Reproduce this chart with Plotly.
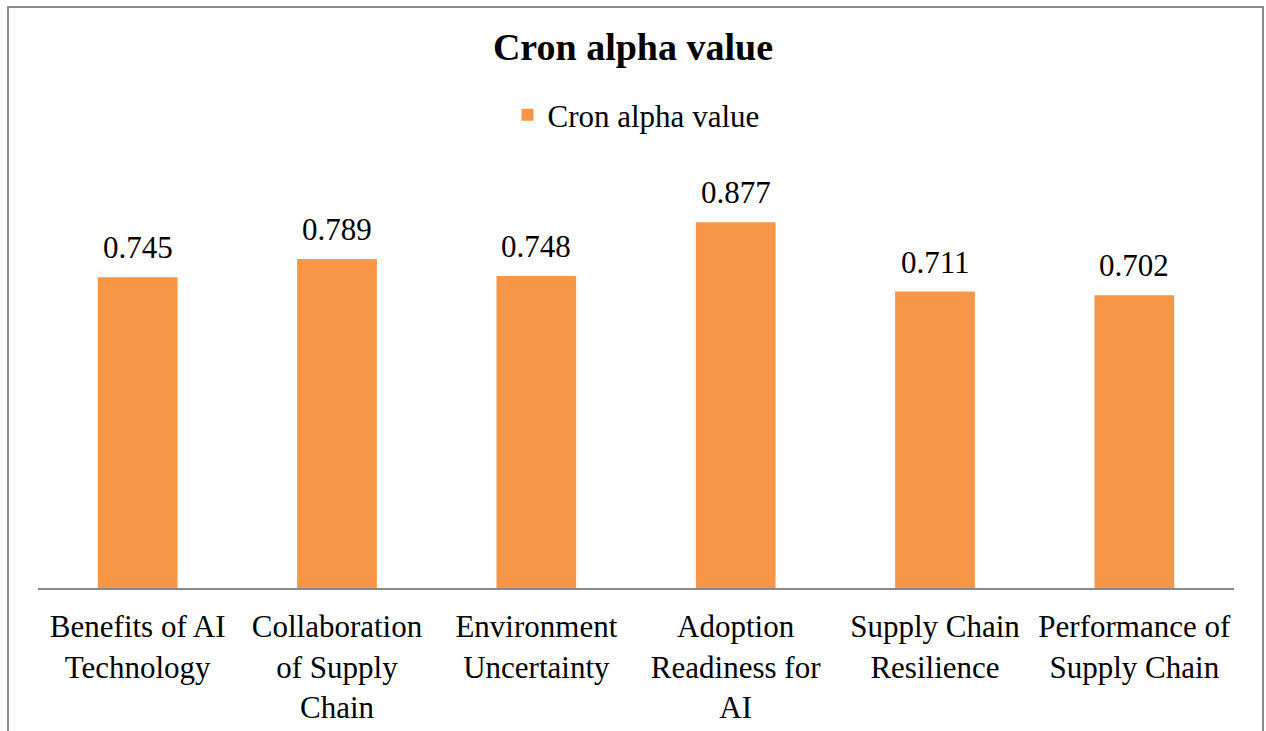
import plotly.graph_objects as go

categories = [
    "Benefits of AI<br>Technology",
    "Collaboration<br>of Supply<br>Chain",
    "Environment<br>Uncertainty",
    "Adoption<br>Readiness for<br>AI",
    "Supply Chain<br>Resilience",
    "Performance of<br>Supply Chain",
]
values = [0.745, 0.789, 0.748, 0.877, 0.711, 0.702]
series_name = "Cron alpha value"
title_text = "Cron alpha value"

FONT = "Liberation Serif, Times New Roman, serif"
ORANGE = "#F79646"
GRAY = "#898989"

fig = go.Figure()
fig.add_trace(go.Bar(
    x=categories, y=values, name=series_name,
    marker=dict(color=ORANGE, line=dict(width=0)),
    showlegend=True,
))

annotations = []
for c, v in zip(categories, values):
    annotations.append(dict(
        x=c, y=v, xref="x", yref="y", text=f"{v:.3f}",
        showarrow=False, yanchor="bottom", yshift=10,
        font=dict(family=FONT, size=31, color="#000000"),
    ))

L, R, T, B = 38, 32, 171, 143
W, H = 1266, 731
pw, ph = W - L - R, H - T - B

def px_x(p):
    return (p - L) / pw

def px_y(p):
    return (H - B - p) / ph

shapes = [
    dict(type="line", xref="paper", yref="paper", x0=px_x(8), x1=px_x(8), y0=px_y(7), y1=px_y(735),
         line=dict(color="#8c8c8c", width=2)),
    dict(type="line", xref="paper", yref="paper", x0=px_x(7), x1=px_x(1264), y0=px_y(7), y1=px_y(7),
         line=dict(color="#8c8c8c", width=2)),
    dict(type="line", xref="paper", yref="paper", x0=px_x(1263), x1=px_x(1263), y0=px_y(7), y1=px_y(735),
         line=dict(color="#8c8c8c", width=2)),
]

fig.update_layout(
    width=W, height=H,
    margin=dict(l=L, r=R, t=T, b=B, autoexpand=False),
    paper_bgcolor="white", plot_bgcolor="white",
    font=dict(family=FONT, size=31, color="#000000"),
    title=dict(text=f"<b>{title_text}</b>", x=0.5, xanchor="center", xref="container",
               y=1 - 47 / H, yanchor="middle", yref="container",
               font=dict(family=FONT, size=38, color="#000000")),
    legend=dict(orientation="h", x=0.5, xanchor="center", y=px_y(115), yanchor="middle",
                font=dict(family=FONT, size=31, color="#000000"), bgcolor="rgba(0,0,0,0)",
                itemwidth=30),
    bargap=0.6,
    xaxis=dict(showline=True, linecolor=GRAY, linewidth=2, showgrid=False, ticks="",
               tickfont=dict(family=FONT, size=31, color="#000000"), ticklabelstandoff=10,
               zeroline=False, automargin=False),
    yaxis=dict(range=[0, 1], visible=False, showgrid=False, zeroline=False, automargin=False),
    annotations=annotations,
    shapes=shapes,
)

fig.write_html(
    "out.html",
    config={"displayModeBar": False},
    post_script="document.body.style.margin='0';document.body.style.overflow='hidden';",
)
